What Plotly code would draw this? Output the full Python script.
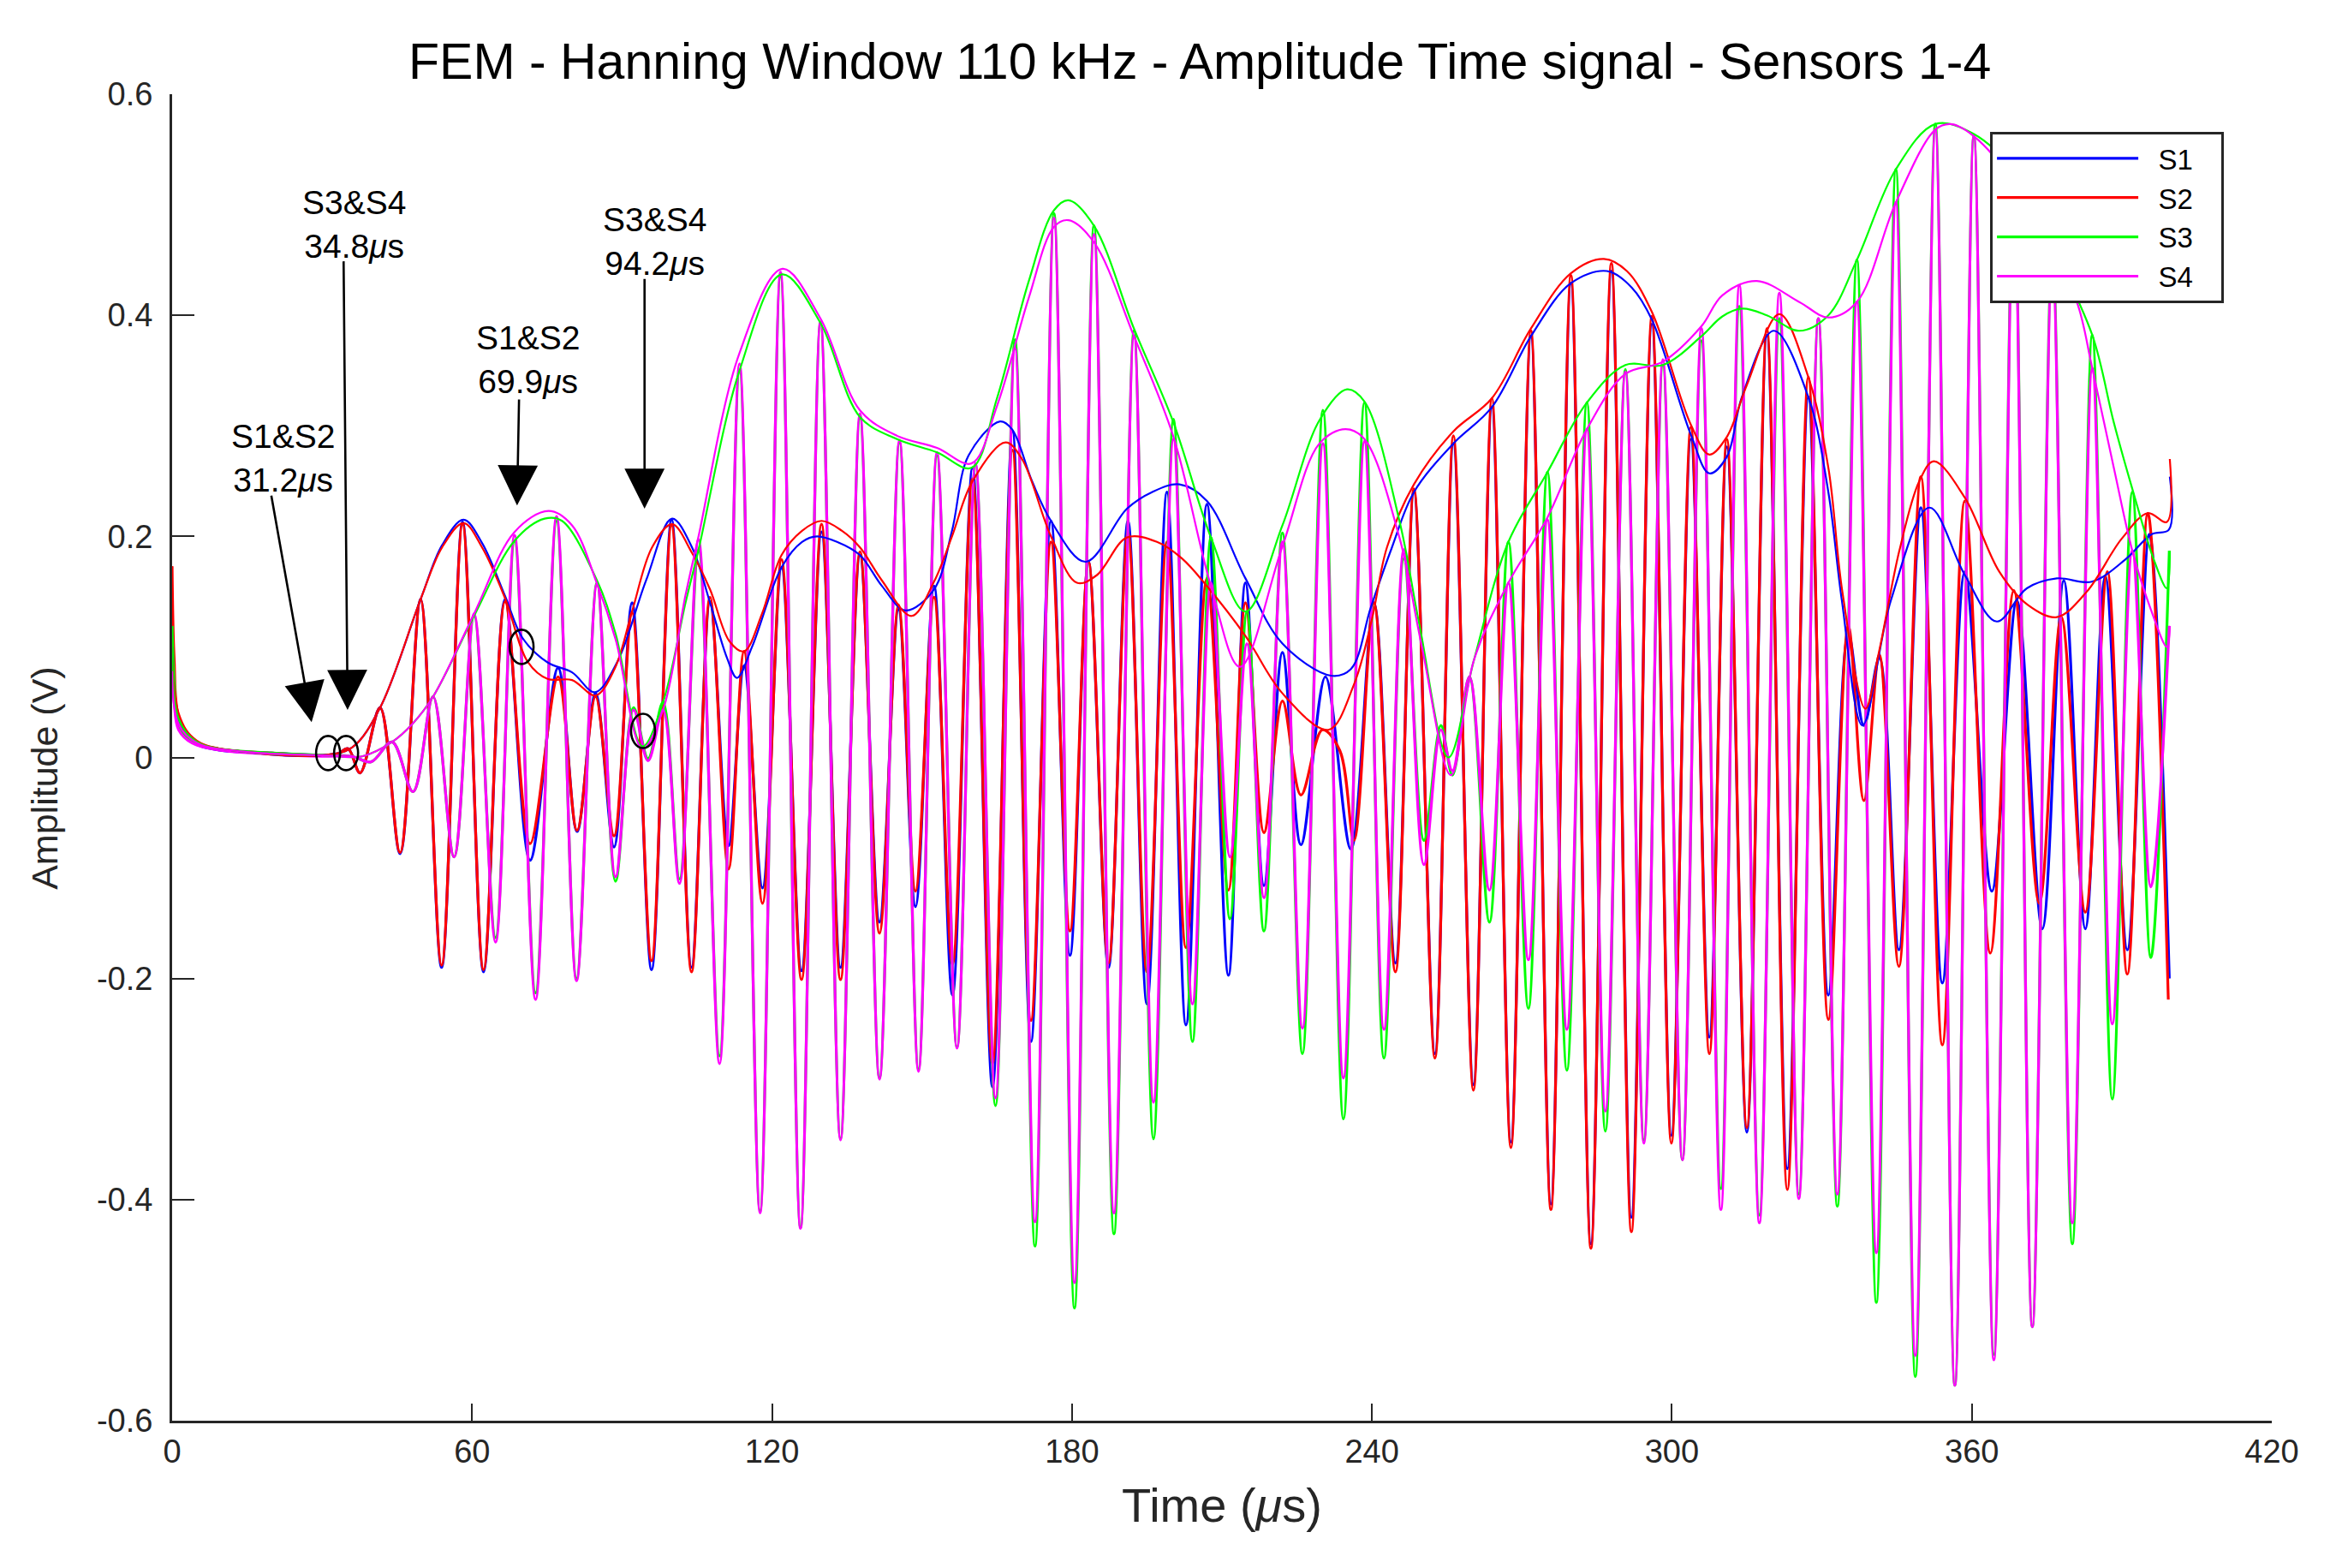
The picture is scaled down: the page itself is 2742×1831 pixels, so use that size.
import plotly.graph_objects as go

# ---------------- data ----------------
# extrema (time in microseconds, amplitude in V) of each sensor signal
S1_PTS = [(0, 0.10), (0.4, 0.06), (1.3, 0.03), (4, 0.014), (9, 0.007), (20, 0.004), (30, 0.002), (33, 0.003),
          (35.2, 0.008), (37.6, -0.014), (41.6, 0.045), (45.6, -0.087), (49.7, 0.143), (53.9, -0.19), (58.1, 0.213),
          (62.3, -0.194), (66.6, 0.143), (71.6, -0.093), (77.2, 0.081), (81.0, -0.067), (84.7, 0.058), (88.4, -0.081),
          (92.0, 0.14), (95.9, -0.192), (99.9, 0.215), (103.9, -0.19), (107.6, 0.141), (111.3, -0.08), (114.4, 0.083),
          (118.1, -0.118), (121.9, 0.172), (125.9, -0.193), (129.9, 0.204), (133.7, -0.19), (137.6, 0.183),
          (141.5, -0.149), (145.3, 0.134), (148.7, -0.135), (152.4, 0.155), (156.1, -0.215), (160.1, 0.262),
          (164.1, -0.298), (168.1, 0.295), (171.8, -0.257), (175.8, 0.214), (179.6, -0.179), (183.3, 0.177),
          (187.3, -0.19), (191.2, 0.214), (195.0, -0.223), (199.0, 0.24), (202.8, -0.242), (207.0, 0.229),
          (211.3, -0.197), (214.7, 0.158), (218.4, -0.116), (222.1, 0.095), (225.8, -0.079), (230.7, 0.073),
          (235.8, -0.083), (240.4, 0.14), (244.7, -0.186), (248.4, 0.24), (252.6, -0.268), (256.3, 0.284),
          (260.3, -0.296), (264.0, 0.317), (267.8, -0.348), (271.8, 0.381), (275.8, -0.404), (279.8, 0.429),
          (283.8, -0.44), (287.9, 0.44), (291.9, -0.416), (296.0, 0.392), (299.9, -0.342), (303.8, 0.288),
          (307.5, -0.253), (311.0, 0.281), (315.0, -0.339), (319.0, 0.382), (323.1, -0.372), (327.3, 0.326),
          (331.3, -0.215), (335.3, 0.112), (338.4, 0.029), (341.5, 0.09), (345.4, -0.174), (349.8, 0.226),
          (354.1, -0.204), (358.6, 0.168), (364.0, -0.121), (369.0, 0.142), (374.1, -0.155), (378.4, 0.16),
          (382.7, -0.155), (386.7, 0.164), (391.1, -0.174), (395.5, 0.202), (399.5, -0.2)]

S2_PTS = [(0, 0.173), (0.4, 0.09), (1.3, 0.037), (4, 0.016), (9, 0.008), (20, 0.004), (30, 0.002), (33, 0.003),
          (35.2, 0.008), (37.6, -0.014), (41.6, 0.045), (45.6, -0.086), (49.7, 0.143), (53.9, -0.188), (58.1, 0.211),
          (62.3, -0.192), (66.6, 0.141), (71.6, -0.078), (77.2, 0.073), (81.0, -0.066), (84.7, 0.055), (88.4, -0.071),
          (92.0, 0.131), (95.9, -0.184), (99.9, 0.21), (103.9, -0.194), (107.6, 0.145), (111.3, -0.101), (114.4, 0.096),
          (118.1, -0.132), (121.9, 0.179), (125.9, -0.201), (129.9, 0.211), (133.7, -0.201), (137.6, 0.186),
          (141.5, -0.159), (145.3, 0.138), (148.7, -0.121), (152.4, 0.145), (156.1, -0.187), (160.1, 0.252),
          (164.1, -0.277), (168.1, 0.278), (171.8, -0.238), (175.8, 0.195), (179.6, -0.157), (183.3, 0.177),
          (187.3, -0.186), (191.2, 0.203), (195.0, -0.194), (199.0, 0.195), (202.8, -0.172), (207.0, 0.162),
          (211.3, -0.12), (214.7, 0.14), (218.4, -0.068), (222.1, 0.051), (225.8, -0.034), (230.1, 0.025),
          (233.6, 0.006), (236.4, -0.075), (240.4, 0.14), (244.7, -0.194), (248.4, 0.243), (252.6, -0.272),
          (256.3, 0.291), (260.3, -0.301), (264.0, 0.325), (267.8, -0.353), (271.8, 0.386), (275.8, -0.409),
          (279.8, 0.436), (283.8, -0.444), (287.9, 0.447), (291.9, -0.429), (296.0, 0.399), (299.9, -0.349),
          (303.8, 0.299), (307.5, -0.268), (311.0, 0.288), (315.0, -0.335), (319.0, 0.388), (323.1, -0.391),
          (327.3, 0.344), (331.3, -0.237), (335.3, 0.119), (338.4, -0.039), (341.5, 0.093), (345.4, -0.189),
          (349.8, 0.254), (354.1, -0.26), (358.6, 0.232), (363.7, -0.177), (368.4, 0.151), (373.5, -0.132),
          (377.9, 0.127), (382.7, -0.14), (387.1, 0.168), (391.1, -0.196), (395.2, 0.221), (399.3, -0.219)]

S3_PTS = [(0, 0.119), (0.4, 0.07), (1.3, 0.03), (4, 0.014), (9, 0.008), (20, 0.004), (30, 0.002), (36, 0.001),
          (39.8, -0.004), (44.0, 0.014), (48.2, -0.031), (52.2, 0.055), (56.4, -0.09), (60.4, 0.128), (64.7, -0.163),
          (68.5, 0.196), (72.7, -0.213), (76.9, 0.214), (80.9, -0.2), (85.0, 0.158), (88.7, -0.112), (92.3, 0.045),
          (95.2, -0.001), (98.2, 0.05), (101.5, -0.11), (105.3, 0.188), (109.5, -0.27), (113.5, 0.35), (117.6, -0.41),
          (121.7, 0.435), (125.7, -0.425), (129.7, 0.393), (133.7, -0.345), (137.6, 0.307), (141.5, -0.29),
          (145.5, 0.285), (149.3, -0.282), (153.0, 0.273), (157.0, -0.262), (160.7, 0.265), (164.7, -0.315),
          (168.6, 0.378), (172.6, -0.442), (176.4, 0.492), (180.5, -0.498), (184.4, 0.481), (188.4, -0.431),
          (192.4, 0.386), (196.3, -0.345), (200.3, 0.306), (204.1, -0.257), (207.8, 0.199), (211.6, -0.146),
          (215.0, 0.132), (218.4, -0.157), (222.1, 0.203), (226.1, -0.268), (230.2, 0.314), (234.3, -0.327),
          (238.5, 0.321), (242.4, -0.272), (246.4, 0.18), (250.4, -0.075), (253.8, 0.029), (256.1, -0.016),
          (259.5, 0.073), (263.5, -0.149), (267.3, 0.195), (271.3, -0.227), (275.1, 0.258), (279.0, -0.283),
          (283.0, 0.321), (286.7, -0.338), (290.7, 0.351), (294.4, -0.346), (298.2, 0.355), (302.1, -0.364),
          (305.9, 0.377), (309.8, -0.39), (313.5, 0.408), (317.5, -0.414), (321.5, 0.397), (325.4, -0.395),
          (329.3, 0.397), (333.1, -0.406), (337.0, 0.45), (340.9, -0.493), (344.8, 0.532), (348.7, -0.56),
          (352.7, 0.573), (356.6, -0.568), (360.4, 0.562), (364.4, -0.54), (368.4, 0.525), (372.1, -0.515),
          (376.1, 0.46), (380.1, -0.44), (384.1, 0.382), (388.1, -0.309), (392.1, 0.24), (395.8, -0.181), (399.5, 0.187)]

S4_PTS = [(0, 0.078), (0.4, 0.05), (1.3, 0.025), (4, 0.013), (9, 0.007), (20, 0.003), (30, 0.001), (36, 0.001),
          (39.8, -0.004), (44.0, 0.014), (48.2, -0.031), (52.2, 0.055), (56.4, -0.09), (60.4, 0.13), (64.7, -0.167),
          (68.5, 0.201), (72.7, -0.219), (76.9, 0.218), (80.9, -0.202), (85.0, 0.157), (88.7, -0.108), (92.3, 0.043),
          (95.2, -0.003), (98.2, 0.043), (101.5, -0.114), (105.3, 0.197), (109.5, -0.277), (113.5, 0.356),
          (117.6, -0.412), (121.7, 0.439), (125.7, -0.426), (129.7, 0.394), (133.7, -0.346), (137.6, 0.311),
          (141.5, -0.291), (145.5, 0.287), (149.3, -0.284), (153.0, 0.276), (157.0, -0.263), (160.7, 0.266),
          (164.7, -0.308), (168.6, 0.37), (172.6, -0.42), (176.4, 0.488), (180.5, -0.475), (184.4, 0.473),
          (188.4, -0.412), (192.4, 0.381), (196.3, -0.312), (200.3, 0.288), (204.1, -0.223), (207.8, 0.158),
          (211.6, -0.09), (215.0, 0.103), (218.4, -0.127), (222.1, 0.195), (226.1, -0.245), (230.2, 0.284),
          (234.3, -0.29), (238.5, 0.286), (242.4, -0.246), (246.4, 0.188), (250.4, -0.097), (253.8, 0.025),
          (256.1, -0.012), (259.5, 0.073), (263.5, -0.12), (267.3, 0.158), (271.3, -0.183), (275.1, 0.215),
          (279.0, -0.246), (283.0, 0.297), (286.7, -0.32), (290.7, 0.349), (294.4, -0.349), (298.2, 0.36),
          (302.1, -0.364), (305.9, 0.388), (309.8, -0.409), (313.5, 0.427), (317.5, -0.421), (321.5, 0.42),
          (325.4, -0.399), (329.3, 0.397), (333.1, -0.395), (337.0, 0.412), (340.9, -0.448), (344.8, 0.502),
          (348.7, -0.541), (352.7, 0.568), (356.6, -0.568), (360.4, 0.562), (364.4, -0.545), (368.4, 0.515),
          (372.1, -0.515), (376.1, 0.45), (380.1, -0.421), (384.1, 0.352), (388.1, -0.241), (392.1, 0.187),
          (395.8, -0.117), (399.5, 0.119)]

# envelopes of each signal
E1_PTS = [(0, 0.10), (1.3, 0.035), (5, 0.014), (15, 0.005), (30, 0.002), (36, 0.009), (41.6, 0.045), (49.7, 0.143),
          (54, 0.192), (58.3, 0.215), (62, 0.194), (66.6, 0.146), (70.1, 0.108), (75.1, 0.086), (80, 0.077),
          (84.6, 0.059), (89, 0.086), (94.8, 0.16), (100, 0.216), (104, 0.19), (107.6, 0.14), (111, 0.09),
          (113, 0.072), (116, 0.1), (121.9, 0.172), (126, 0.195), (129, 0.2), (133, 0.195), (137.6, 0.183),
          (142, 0.155), (146.7, 0.133), (152.4, 0.152), (156, 0.205), (159.3, 0.273), (165.6, 0.304), (168, 0.297),
          (172, 0.25), (175.8, 0.214), (182.7, 0.177), (191, 0.225), (196, 0.24), (201.5, 0.247), (207, 0.232),
          (214.7, 0.162), (222.1, 0.103), (231.8, 0.074), (235.8, 0.08), (239.8, 0.136), (244, 0.19), (248.4, 0.24),
          (256.3, 0.284), (264, 0.317), (271.8, 0.381), (279.8, 0.429), (287, 0.44), (292, 0.425), (296, 0.396),
          (303.8, 0.292), (307.5, 0.257), (311, 0.272), (314, 0.326), (320.4, 0.386), (327.3, 0.326), (331.3, 0.24),
          (334, 0.142), (338.1, 0.029), (343.8, 0.142), (351.5, 0.226), (358.6, 0.165), (365, 0.123), (371, 0.153),
          (377, 0.162), (384, 0.159), (390.7, 0.179), (396, 0.202), (399.4, 0.206), (399.6, 0.254)]

E2_PTS = [(0, 0.173), (1.3, 0.04), (5, 0.015), (15, 0.005), (30, 0.002), (36, 0.009), (41.6, 0.045), (49.7, 0.143),
          (54, 0.19), (58.3, 0.212), (62, 0.19), (66.6, 0.144), (71.2, 0.086), (75.1, 0.071), (80, 0.07),
          (84.7, 0.056), (88.5, 0.08), (92.0, 0.132), (96, 0.19), (100, 0.211), (104, 0.185), (107.6, 0.152),
          (111.5, 0.105), (114.4, 0.096), (118, 0.13), (121.9, 0.183), (126, 0.205), (129.9, 0.214), (134, 0.205),
          (137.6, 0.19), (142, 0.16), (147.9, 0.128), (152.4, 0.159), (156, 0.2), (160, 0.249), (166.7, 0.285),
          (170, 0.27), (175.8, 0.2), (181, 0.158), (185, 0.165), (191, 0.199), (197, 0.195), (202, 0.18),
          (207, 0.155), (214.7, 0.11), (222.1, 0.058), (231.3, 0.025), (236.4, 0.066), (240, 0.125), (243, 0.19),
          (248.4, 0.247), (256.3, 0.295), (264, 0.325), (271.8, 0.388), (279.8, 0.438), (286.4, 0.451),
          (291, 0.44), (296, 0.403), (303.8, 0.301), (307.5, 0.274), (311, 0.29), (315, 0.337), (321.5, 0.401),
          (327.3, 0.344), (331.3, 0.262), (334.1, 0.15), (338.7, 0.044), (341.5, 0.097), (345.5, 0.187),
          (349.5, 0.25), (352.4, 0.268), (358.6, 0.235), (365.5, 0.168), (371.2, 0.138), (377, 0.127), (383, 0.15),
          (390, 0.198), (395.2, 0.221), (399, 0.213), (399.6, 0.27)]

E3_PTS = [(0, 0.119), (1.3, 0.035), (5, 0.014), (15, 0.005), (30, 0.002), (38, 0.001), (44, 0.014), (48, 0.03),
          (52.2, 0.055), (60.4, 0.128), (68.5, 0.196), (74.5, 0.216), (78, 0.214), (85, 0.16), (88.7, 0.112),
          (94.1, 0.01), (98.2, 0.05), (102.7, 0.14), (105.3, 0.188), (113.5, 0.35), (122, 0.437), (129.7, 0.393),
          (137.6, 0.308), (145, 0.288), (153, 0.276), (159.9, 0.262), (165, 0.325), (171.3, 0.43), (176.4, 0.495),
          (179.3, 0.504), (184.4, 0.481), (192.4, 0.388), (200.3, 0.303), (207.8, 0.199), (214.7, 0.132),
          (222.1, 0.21), (229.5, 0.305), (235, 0.333), (238.5, 0.322), (245.5, 0.214), (249.5, 0.12), (255.3, 0.0),
          (260.4, 0.088), (267.3, 0.195), (275.1, 0.258), (283, 0.321), (290.7, 0.355), (298.2, 0.355),
          (305.9, 0.381), (310.1, 0.399), (314.1, 0.406), (319, 0.4), (325.5, 0.386), (331.3, 0.4), (337, 0.45),
          (344.8, 0.532), (352.7, 0.573), (360.4, 0.564), (368.4, 0.53), (376.1, 0.462), (384.1, 0.382),
          (388.4, 0.303), (392.1, 0.243), (396.4, 0.179), (399, 0.153), (399.6, 0.187)]

E4_PTS = [(0, 0.078), (1.3, 0.03), (5, 0.013), (15, 0.005), (30, 0.002), (38, 0.001), (44, 0.014), (48, 0.03),
          (52.2, 0.055), (60.4, 0.13), (68.5, 0.204), (75.3, 0.223), (80, 0.21), (85, 0.157), (88.7, 0.107),
          (94.1, 0.008), (98.2, 0.043), (102.7, 0.147), (105.3, 0.2), (113.5, 0.366), (122.1, 0.442),
          (129.7, 0.397), (137.6, 0.314), (145, 0.291), (153, 0.28), (159.9, 0.266), (165, 0.318), (171.3, 0.415),
          (176.4, 0.48), (179.3, 0.486), (184.4, 0.466), (192.4, 0.381), (200.3, 0.29), (207.8, 0.155),
          (213.6, 0.082), (222.1, 0.191), (229.5, 0.284), (234.7, 0.297), (238.5, 0.288), (245.5, 0.199),
          (250, 0.1), (255.8, -0.016), (260.4, 0.088), (267.3, 0.158), (275.1, 0.217), (283, 0.297),
          (290.7, 0.347), (298.2, 0.358), (305.9, 0.39), (310.1, 0.418), (317, 0.431), (325.5, 0.412),
          (331.3, 0.398), (337, 0.412), (344.8, 0.502), (352.7, 0.568), (355.8, 0.573), (360.4, 0.562),
          (368.4, 0.52), (376.1, 0.455), (381, 0.412), (384.1, 0.352), (388.4, 0.262), (392.1, 0.187),
          (395.8, 0.134), (399, 0.1), (399.6, 0.119)]

SERIES_NAMES = ["S1", "S2", "S3", "S4"]

# marked arrival points
MARK_T = [31.2, 34.8, 69.9, 94.2]
MARK_V = [0.004, 0.004, 0.100, 0.024]
MARK_LABELS = ["S1&S2", "S3&S4", "S1&S2", "S3&S4"]

X_TICKS = [0, 60, 120, 180, 240, 300, 360, 420]
X_TICK_LABELS = ["0", "60", "120", "180", "240", "300", "360", "420"]
Y_TICKS = [-0.6, -0.4, -0.2, 0, 0.2, 0.4, 0.6]
Y_TICK_LABELS = ["-0.6", "-0.4", "-0.2", "0", "0.2", "0.4", "0.6"]

# ---------------- figure ----------------
COLORS = ["#0000FF", "#FF0000", "#00FF00", "#FF00FF"]
FONT = "Liberation Sans, Arial, Helvetica, sans-serif"
AXC = "#262626"
NBSP = "\u00a0"

fig = go.Figure()
for name, pts, col in zip(SERIES_NAMES, [S1_PTS, S2_PTS, S3_PTS, S4_PTS], COLORS):
    fig.add_trace(go.Scatter(x=[p[0] for p in pts], y=[p[1] for p in pts], mode="lines",
                             name=NBSP * 2 + name + NBSP * 3,
                             line=dict(color=col, width=3.2, shape="spline", smoothing=1.0)))
for name, pts, col in zip(SERIES_NAMES, [E1_PTS, E2_PTS, E3_PTS, E4_PTS], COLORS):
    fig.add_trace(go.Scatter(x=[p[0] for p in pts], y=[p[1] for p in pts], mode="lines", name=name + " env",
                             showlegend=False, line=dict(color=col, width=2.2, shape="spline", smoothing=1.0)))

# ellipses around the marked points
for t, v in zip(MARK_T, MARK_V):
    fig.add_shape(type="circle", xref="x", yref="y", x0=t - 2.4, x1=t + 2.4, y0=v - 0.0155, y1=v + 0.0155,
                  line=dict(color="black", width=2.6))

# label text and arrows (text block centre, arrow tail, arrow tip)
LABEL_POS = [(22.1, 0.271), (36.4, 0.482), (71.1, 0.36), (96.5, 0.467)]
ARROW_TAIL = [(19.8, 0.238), (34.3, 0.45), (69.4, 0.325), (94.5, 0.434)]
ARROW_TIP = [(27.9, 0.032), (35.1, 0.043), (69.0, 0.228), (94.5, 0.225)]
for lab, t, (lx, ly), (ax, ay), (hx, hy) in zip(MARK_LABELS, MARK_T, LABEL_POS, ARROW_TAIL, ARROW_TIP):
    fig.add_annotation(x=lx, y=ly, xref="x", yref="y", showarrow=False,
                       text=f"{lab}<br>{t:.1f}<i>μ</i>s", align="center",
                       font=dict(family=FONT, size=39, color="black"), yanchor="middle", xanchor="center")
    fig.add_annotation(x=hx, y=hy, ax=ax, ay=ay, xref="x", yref="y", axref="x", ayref="y", text="",
                       showarrow=True, arrowhead=2, arrowsize=3.6, arrowwidth=2.6, arrowcolor="black")

# y-axis title placed as rotated text
fig.add_annotation(x=-0.0607, y=0.4844, xref="paper", yref="paper", showarrow=False, textangle=-90,
                   text="Amplitude (V)", font=dict(family=FONT, size=43, color=AXC),
                   xanchor="center", yanchor="middle")

fig.update_layout(
    width=2742, height=1831,
    margin=dict(l=201, r=89, t=110, b=172),
    paper_bgcolor="white", plot_bgcolor="white",
    font=dict(family=FONT, color=AXC),
    title=dict(text="FEM - Hanning Window 110 kHz - Amplitude Time signal - Sensors 1-4",
               font=dict(family=FONT, size=59, color="black"),
               x=0.511, xanchor="center", y=0.961, yanchor="middle"),
    showlegend=True,
    legend=dict(x=0.9772, xanchor="right", y=0.9717, yanchor="top",
                bgcolor="white", bordercolor=AXC, borderwidth=3,
                font=dict(family=FONT, size=33, color="black"),
                itemwidth=165, tracegroupgap=0),
)
fig.update_xaxes(range=[0, 420], tickvals=X_TICKS, ticktext=X_TICK_LABELS, ticks="inside", ticklen=20,
                 tickwidth=2, tickcolor=AXC, showline=True, linewidth=3, linecolor=AXC, showgrid=False,
                 zeroline=False, tickfont=dict(family=FONT, size=38, color=AXC),
                 title=dict(text="Time (<i>μ</i>s)", font=dict(family=FONT, size=56, color=AXC), standoff=24))
fig.update_yaxes(range=[-0.6, 0.6], tickvals=Y_TICKS, ticktext=Y_TICK_LABELS, ticks="inside", ticklen=26,
                 tickwidth=2, tickcolor=AXC, showline=True, linewidth=3, linecolor=AXC, showgrid=False,
                 zeroline=False, tickfont=dict(family=FONT, size=38, color=AXC), ticklabelstandoff=12)

fig.write_html("out.html", config={"displayModeBar": False},
               post_script="document.body.style.margin='0';")
